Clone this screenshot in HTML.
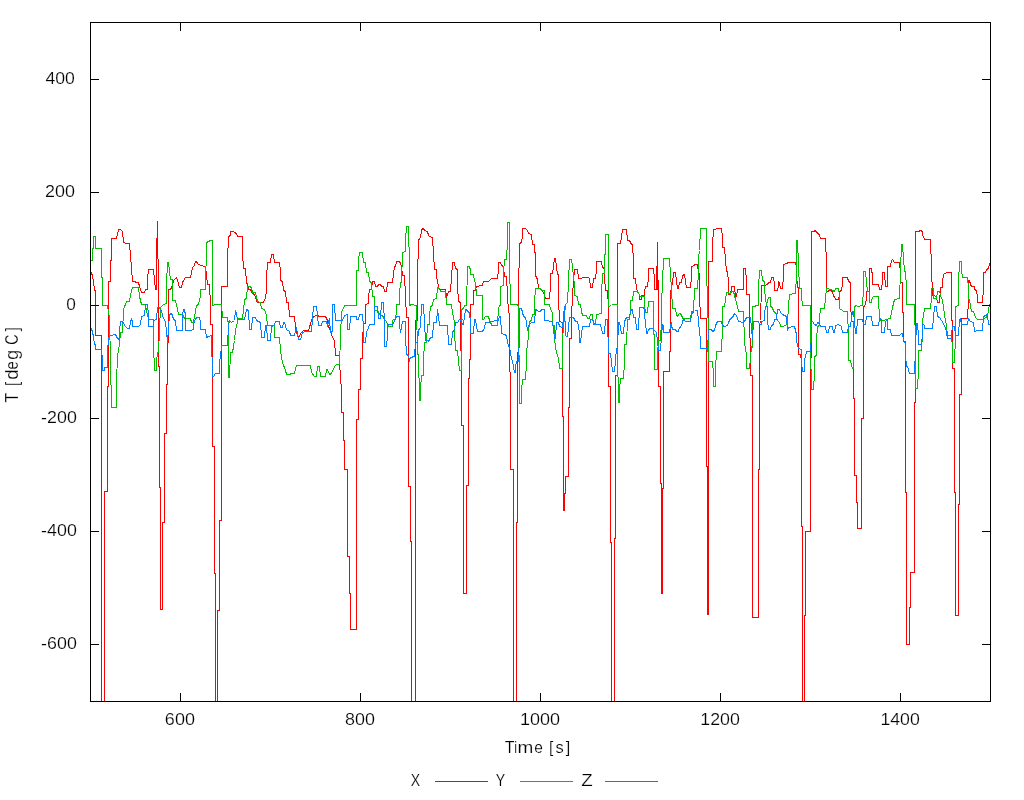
<!DOCTYPE html>
<html><head><meta charset="utf-8"><style>
html,body{margin:0;padding:0;background:#fff;width:1024px;height:800px;overflow:hidden}
svg{display:block;will-change:transform}
text{font-family:"Liberation Sans",sans-serif;font-size:17.0px;fill:#000;font-kerning:none;stroke:#fff;stroke-width:0.2px}
</style></head><body>
<svg width="1024" height="800" viewBox="0 0 1024 800">
<rect width="1024" height="800" fill="#fff"/>
<g fill="none" stroke-width="1" shape-rendering="crispEdges">
<polyline stroke="#ff0000" points="90.5,271.5 91.5,272.5 92.5,276.5 93.5,281.5 94.5,290.5 95.5,290.5 95.5,335.5 101.5,335.5 101.5,701.5 104.5,701.5 104.5,491.5 107.5,491.5 107.5,386.5 108.5,386.5 108.5,281.5 110.5,281.5 110.5,260.5 111.5,260.5 111.5,238.5 116.5,238.5 117.5,234.5 118.5,229.5 120.5,229.5 122.5,231.5 123.5,242.5 126.5,243.5 129.5,243.5 130.5,255.5 131.5,267.5 132.5,281.5 138.5,282.5 139.5,286.5 141.5,292.5 144.5,292.5 145.5,289.5 147.5,289.5 147.5,279.5 148.5,269.5 153.5,269.5 154.5,280.5 155.5,289.5 156.5,289.5 156.5,255.5 157.5,221.5 158.5,294.5 158.5,366.5 159.5,366.5 159.5,487.5 160.5,487.5 160.5,609.5 162.5,609.5 162.5,522.5 164.5,522.5 164.5,433.5 166.5,433.5 166.5,384.5 167.5,384.5 167.5,342.5 168.5,342.5 168.5,289.5 170.5,289.5 172.5,285.5 173.5,280.5 176.5,277.5 177.5,280.5 179.5,287.5 181.5,287.5 182.5,282.5 185.5,277.5 190.5,277.5 191.5,272.5 192.5,267.5 194.5,265.5 195.5,261.5 196.5,261.5 197.5,263.5 200.5,265.5 205.5,266.5 206.5,275.5 207.5,284.5 209.5,284.5 210.5,304.5 210.5,324.5 212.5,324.5 212.5,446.5 214.5,446.5 214.5,573.5 215.5,573.5 215.5,701.5 217.5,701.5 217.5,610.5 219.5,610.5 219.5,520.5 221.5,520.5 221.5,286.5 227.5,286.5 227.5,260.5 228.5,236.5 230.5,235.5 230.5,231.5 233.5,231.5 234.5,232.5 236.5,233.5 237.5,236.5 242.5,236.5 242.5,252.5 243.5,268.5 245.5,268.5 246.5,282.5 247.5,284.5 248.5,289.5 250.5,289.5 252.5,293.5 254.5,294.5 256.5,300.5 257.5,302.5 263.5,302.5 265.5,297.5 266.5,291.5 266.5,277.5 267.5,262.5 270.5,262.5 271.5,254.5 273.5,254.5 274.5,262.5 279.5,262.5 280.5,271.5 280.5,280.5 282.5,281.5 283.5,290.5 285.5,291.5 286.5,302.5 288.5,302.5 289.5,316.5 294.5,316.5 295.5,327.5 296.5,332.5 298.5,337.5 301.5,332.5 303.5,330.5 308.5,330.5 311.5,320.5 313.5,316.5 316.5,315.5 320.5,316.5 325.5,316.5 327.5,320.5 327.5,323.5 330.5,331.5 332.5,337.5 334.5,340.5 335.5,355.5 338.5,355.5 339.5,355.5 340.5,383.5 341.5,384.5 341.5,412.5 343.5,412.5 343.5,440.5 344.5,440.5 344.5,469.5 347.5,469.5 347.5,556.5 349.5,556.5 349.5,593.5 350.5,593.5 350.5,629.5 356.5,629.5 356.5,419.5 358.5,419.5 358.5,389.5 360.5,389.5 360.5,358.5 362.5,358.5 362.5,341.5 363.5,323.5 365.5,323.5 365.5,304.5 368.5,303.5 368.5,296.5 369.5,289.5 371.5,289.5 372.5,281.5 374.5,281.5 375.5,286.5 377.5,286.5 378.5,284.5 380.5,284.5 381.5,286.5 383.5,286.5 384.5,291.5 386.5,291.5 387.5,282.5 392.5,282.5 393.5,274.5 394.5,266.5 395.5,266.5 396.5,261.5 399.5,261.5 400.5,263.5 401.5,266.5 402.5,275.5 404.5,275.5 405.5,295.5 406.5,317.5 408.5,317.5 408.5,486.5 410.5,486.5 410.5,541.5 411.5,541.5 411.5,701.5 415.5,701.5 415.5,320.5 417.5,320.5 417.5,279.5 418.5,239.5 420.5,238.5 421.5,229.5 423.5,228.5 424.5,230.5 427.5,231.5 428.5,235.5 429.5,236.5 432.5,237.5 433.5,253.5 434.5,269.5 436.5,269.5 436.5,275.5 437.5,282.5 439.5,289.5 445.5,289.5 446.5,296.5 447.5,294.5 448.5,291.5 450.5,291.5 451.5,277.5 452.5,262.5 454.5,262.5 455.5,268.5 457.5,269.5 457.5,285.5 458.5,301.5 460.5,302.5 460.5,337.5 461.5,363.5 461.5,425.5 463.5,425.5 463.5,593.5 466.5,593.5 466.5,485.5 468.5,485.5 468.5,378.5 469.5,378.5 470.5,341.5 470.5,304.5 473.5,304.5 473.5,290.5 475.5,290.5 476.5,286.5 482.5,285.5 483.5,281.5 488.5,281.5 491.5,278.5 497.5,278.5 498.5,270.5 498.5,262.5 500.5,262.5 501.5,265.5 503.5,266.5 504.5,276.5 506.5,276.5 507.5,294.5 508.5,312.5 509.5,313.5 509.5,352.5 510.5,391.5 510.5,469.5 513.5,469.5 513.5,701.5 516.5,701.5 516.5,522.5 517.5,522.5 517.5,362.5 518.5,342.5 518.5,292.5 519.5,243.5 521.5,242.5 522.5,235.5 522.5,228.5 525.5,228.5 527.5,230.5 528.5,233.5 531.5,234.5 532.5,244.5 534.5,244.5 535.5,260.5 535.5,275.5 537.5,279.5 538.5,288.5 540.5,288.5 541.5,290.5 543.5,292.5 545.5,298.5 549.5,298.5 550.5,286.5 550.5,273.5 552.5,273.5 553.5,266.5 554.5,258.5 555.5,258.5 556.5,266.5 557.5,274.5 558.5,274.5 558.5,297.5 559.5,321.5 562.5,322.5 562.5,416.5 563.5,416.5 563.5,510.5 564.5,510.5 564.5,493.5 565.5,493.5 565.5,476.5 568.5,476.5 568.5,407.5 569.5,407.5 569.5,338.5 571.5,338.5 571.5,316.5 572.5,295.5 573.5,281.5 574.5,269.5 577.5,269.5 578.5,278.5 581.5,278.5 582.5,277.5 586.5,277.5 588.5,277.5 589.5,278.5 590.5,287.5 592.5,287.5 593.5,278.5 595.5,278.5 596.5,269.5 596.5,261.5 601.5,261.5 602.5,267.5 604.5,268.5 604.5,276.5 605.5,290.5 607.5,290.5 608.5,307.5 608.5,386.5 610.5,386.5 610.5,542.5 611.5,542.5 611.5,701.5 614.5,701.5 614.5,538.5 615.5,538.5 615.5,375.5 617.5,375.5 617.5,303.5 617.5,243.5 620.5,243.5 621.5,236.5 622.5,229.5 626.5,229.5 627.5,240.5 629.5,240.5 631.5,244.5 632.5,244.5 633.5,261.5 633.5,278.5 635.5,278.5 636.5,289.5 638.5,292.5 639.5,295.5 639.5,299.5 641.5,299.5 641.5,295.5 644.5,295.5 644.5,291.5 645.5,286.5 647.5,286.5 648.5,277.5 648.5,268.5 653.5,268.5 654.5,279.5 654.5,289.5 656.5,289.5 656.5,266.5 657.5,266.5 657.5,289.5 657.5,242.5 658.5,314.5 658.5,386.5 660.5,386.5 660.5,483.5 661.5,483.5 661.5,593.5 662.5,593.5 662.5,488.5 663.5,488.5 663.5,371.5 669.5,371.5 670.5,332.5 670.5,290.5 671.5,289.5 671.5,284.5 672.5,284.5 673.5,272.5 675.5,272.5 676.5,280.5 677.5,288.5 678.5,288.5 679.5,282.5 681.5,282.5 682.5,275.5 684.5,274.5 685.5,281.5 686.5,287.5 690.5,287.5 691.5,276.5 691.5,266.5 694.5,265.5 694.5,264.5 697.5,264.5 698.5,272.5 699.5,274.5 699.5,295.5 700.5,318.5 706.5,318.5 706.5,466.5 707.5,466.5 707.5,614.5 708.5,614.5 708.5,261.5 712.5,261.5 712.5,245.5 713.5,229.5 715.5,229.5 716.5,228.5 721.5,228.5 722.5,237.5 722.5,247.5 724.5,247.5 725.5,259.5 726.5,271.5 727.5,271.5 728.5,282.5 728.5,294.5 730.5,294.5 731.5,288.5 731.5,286.5 734.5,286.5 735.5,296.5 736.5,296.5 737.5,289.5 743.5,289.5 743.5,268.5 745.5,268.5 746.5,281.5 746.5,294.5 749.5,294.5 749.5,328.5 750.5,347.5 750.5,375.5 752.5,375.5 752.5,617.5 758.5,617.5 758.5,469.5 759.5,469.5 759.5,325.5 760.5,320.5 761.5,285.5 764.5,285.5 767.5,284.5 768.5,282.5 770.5,282.5 771.5,277.5 773.5,277.5 774.5,284.5 774.5,290.5 777.5,290.5 778.5,285.5 778.5,281.5 779.5,282.5 780.5,288.5 782.5,288.5 783.5,275.5 783.5,264.5 786.5,263.5 788.5,262.5 795.5,262.5 796.5,266.5 796.5,274.5 797.5,286.5 798.5,288.5 798.5,354.5 800.5,354.5 801.5,360.5 801.5,526.5 802.5,526.5 802.5,701.5 804.5,701.5 804.5,615.5 805.5,615.5 805.5,531.5 810.5,531.5 810.5,381.5 811.5,336.5 811.5,231.5 813.5,231.5 815.5,230.5 816.5,232.5 818.5,233.5 819.5,235.5 820.5,238.5 825.5,238.5 826.5,264.5 826.5,291.5 830.5,290.5 832.5,291.5 833.5,296.5 834.5,296.5 835.5,299.5 838.5,299.5 839.5,294.5 839.5,291.5 841.5,290.5 842.5,284.5 842.5,277.5 847.5,277.5 848.5,281.5 850.5,282.5 850.5,302.5 851.5,321.5 853.5,321.5 853.5,398.5 854.5,398.5 854.5,475.5 856.5,475.5 856.5,502.5 857.5,502.5 857.5,528.5 861.5,528.5 861.5,418.5 863.5,418.5 863.5,306.5 865.5,305.5 866.5,297.5 866.5,291.5 869.5,291.5 869.5,268.5 871.5,268.5 872.5,276.5 872.5,284.5 878.5,284.5 879.5,289.5 881.5,289.5 882.5,281.5 882.5,272.5 884.5,272.5 885.5,286.5 887.5,286.5 887.5,266.5 890.5,266.5 891.5,260.5 892.5,259.5 894.5,262.5 899.5,262.5 900.5,272.5 900.5,282.5 902.5,282.5 902.5,312.5 903.5,312.5 903.5,341.5 905.5,341.5 905.5,492.5 906.5,492.5 906.5,644.5 909.5,644.5 909.5,607.5 910.5,607.5 910.5,572.5 914.5,572.5 914.5,402.5 915.5,402.5 915.5,231.5 918.5,231.5 920.5,230.5 922.5,231.5 922.5,234.5 924.5,239.5 930.5,239.5 931.5,267.5 932.5,295.5 934.5,295.5 935.5,296.5 936.5,296.5 937.5,302.5 939.5,302.5 940.5,287.5 942.5,287.5 942.5,281.5 943.5,274.5 946.5,272.5 951.5,272.5 951.5,320.5 952.5,320.5 952.5,368.5 954.5,368.5 954.5,492.5 955.5,492.5 955.5,615.5 958.5,615.5 958.5,504.5 959.5,504.5 959.5,394.5 961.5,394.5 961.5,318.5 967.5,318.5 968.5,299.5 968.5,280.5 969.5,280.5 970.5,284.5 971.5,286.5 974.5,286.5 974.5,289.5 976.5,290.5 977.5,296.5 977.5,302.5 982.5,302.5 983.5,287.5 983.5,272.5 985.5,272.5 986.5,269.5 988.5,268.5 989.5,263.5 990.5,262.5"/>
<polyline stroke="#00c000" points="90.5,260.5 92.5,260.5 92.5,248.5 93.5,248.5 93.5,236.5 95.5,236.5 95.5,248.5 101.5,248.5 101.5,277.5 102.5,277.5 102.5,305.5 107.5,305.5 108.5,311.5 109.5,318.5 110.5,361.5 111.5,407.5 116.5,407.5 116.5,381.5 117.5,356.5 119.5,344.5 120.5,332.5 122.5,332.5 123.5,309.5 126.5,301.5 129.5,301.5 130.5,294.5 132.5,287.5 138.5,287.5 139.5,296.5 141.5,304.5 145.5,304.5 146.5,310.5 148.5,319.5 153.5,319.5 153.5,345.5 154.5,370.5 156.5,370.5 156.5,361.5 157.5,352.5 158.5,352.5 159.5,329.5 160.5,307.5 163.5,304.5 166.5,303.5 166.5,283.5 167.5,262.5 168.5,262.5 169.5,271.5 170.5,279.5 172.5,279.5 172.5,300.5 175.5,300.5 177.5,309.5 178.5,314.5 182.5,314.5 184.5,318.5 190.5,318.5 191.5,322.5 193.5,322.5 194.5,316.5 196.5,305.5 198.5,304.5 200.5,295.5 200.5,289.5 205.5,289.5 206.5,242.5 208.5,241.5 210.5,240.5 212.5,240.5 212.5,305.5 215.5,304.5 218.5,304.5 218.5,304.5 221.5,304.5 222.5,317.5 227.5,317.5 228.5,325.5 228.5,377.5 229.5,377.5 230.5,352.5 232.5,352.5 234.5,340.5 235.5,330.5 236.5,325.5 238.5,318.5 242.5,318.5 243.5,310.5 244.5,299.5 246.5,298.5 247.5,286.5 249.5,286.5 251.5,287.5 252.5,292.5 255.5,292.5 257.5,301.5 260.5,302.5 261.5,308.5 264.5,309.5 266.5,315.5 267.5,325.5 274.5,325.5 274.5,337.5 279.5,337.5 280.5,350.5 282.5,362.5 285.5,370.5 286.5,374.5 294.5,373.5 296.5,365.5 310.5,365.5 311.5,372.5 314.5,376.5 316.5,376.5 317.5,366.5 319.5,366.5 320.5,376.5 325.5,376.5 326.5,369.5 327.5,369.5 329.5,374.5 331.5,373.5 334.5,366.5 336.5,364.5 338.5,364.5 339.5,364.5 340.5,337.5 341.5,311.5 343.5,308.5 344.5,305.5 356.5,305.5 356.5,270.5 358.5,270.5 358.5,260.5 359.5,252.5 362.5,252.5 363.5,262.5 365.5,262.5 366.5,272.5 368.5,272.5 369.5,281.5 371.5,282.5 372.5,296.5 374.5,296.5 374.5,310.5 377.5,310.5 379.5,314.5 382.5,315.5 384.5,319.5 385.5,320.5 387.5,323.5 388.5,326.5 392.5,326.5 392.5,320.5 395.5,318.5 396.5,311.5 396.5,304.5 399.5,304.5 399.5,294.5 400.5,282.5 401.5,282.5 402.5,252.5 405.5,251.5 405.5,239.5 406.5,226.5 408.5,226.5 409.5,266.5 409.5,305.5 411.5,304.5 416.5,305.5 417.5,354.5 418.5,354.5 419.5,400.5 420.5,400.5 420.5,389.5 421.5,375.5 423.5,375.5 423.5,359.5 424.5,342.5 426.5,342.5 427.5,324.5 429.5,324.5 429.5,315.5 430.5,306.5 432.5,305.5 433.5,299.5 436.5,298.5 437.5,287.5 439.5,288.5 440.5,291.5 445.5,291.5 446.5,304.5 451.5,304.5 452.5,312.5 454.5,322.5 454.5,331.5 455.5,350.5 457.5,350.5 458.5,361.5 459.5,370.5 461.5,370.5 461.5,308.5 461.5,309.5 463.5,308.5 464.5,305.5 466.5,305.5 467.5,266.5 469.5,266.5 470.5,270.5 470.5,274.5 473.5,274.5 474.5,281.5 475.5,282.5 476.5,295.5 482.5,295.5 482.5,319.5 483.5,319.5 485.5,316.5 488.5,316.5 489.5,320.5 490.5,321.5 491.5,325.5 497.5,325.5 498.5,307.5 499.5,306.5 500.5,304.5 500.5,286.5 503.5,285.5 503.5,272.5 504.5,259.5 506.5,259.5 507.5,241.5 507.5,222.5 509.5,222.5 509.5,262.5 510.5,304.5 516.5,304.5 518.5,305.5 519.5,403.5 521.5,403.5 521.5,391.5 522.5,379.5 525.5,379.5 526.5,362.5 526.5,348.5 527.5,347.5 528.5,333.5 529.5,321.5 531.5,320.5 532.5,314.5 534.5,314.5 534.5,301.5 535.5,288.5 540.5,288.5 541.5,290.5 544.5,290.5 544.5,304.5 549.5,304.5 550.5,309.5 552.5,312.5 552.5,325.5 554.5,325.5 554.5,337.5 555.5,347.5 557.5,356.5 558.5,357.5 559.5,368.5 562.5,368.5 562.5,338.5 564.5,316.5 565.5,304.5 567.5,302.5 568.5,281.5 569.5,259.5 571.5,259.5 572.5,266.5 573.5,276.5 574.5,285.5 574.5,295.5 577.5,296.5 578.5,304.5 580.5,304.5 581.5,311.5 582.5,315.5 586.5,315.5 587.5,318.5 589.5,318.5 590.5,314.5 592.5,314.5 593.5,324.5 595.5,324.5 596.5,314.5 601.5,313.5 601.5,294.5 602.5,273.5 604.5,273.5 604.5,254.5 605.5,254.5 605.5,234.5 608.5,234.5 608.5,306.5 611.5,305.5 612.5,304.5 617.5,304.5 617.5,350.5 618.5,402.5 619.5,402.5 619.5,390.5 620.5,378.5 623.5,378.5 624.5,361.5 624.5,344.5 626.5,344.5 627.5,319.5 629.5,319.5 630.5,310.5 630.5,300.5 632.5,300.5 633.5,291.5 636.5,291.5 638.5,292.5 639.5,295.5 640.5,296.5 644.5,296.5 644.5,305.5 645.5,312.5 647.5,312.5 648.5,301.5 653.5,301.5 653.5,334.5 654.5,334.5 654.5,369.5 657.5,369.5 657.5,354.5 658.5,340.5 660.5,340.5 660.5,337.5 661.5,322.5 661.5,305.5 662.5,281.5 663.5,258.5 669.5,258.5 670.5,274.5 671.5,289.5 672.5,308.5 675.5,308.5 676.5,314.5 677.5,316.5 679.5,313.5 681.5,314.5 682.5,318.5 690.5,318.5 691.5,311.5 693.5,311.5 694.5,288.5 697.5,288.5 698.5,272.5 698.5,257.5 699.5,250.5 700.5,228.5 706.5,228.5 706.5,266.5 707.5,304.5 708.5,331.5 708.5,361.5 712.5,361.5 713.5,374.5 713.5,386.5 715.5,386.5 715.5,368.5 716.5,351.5 721.5,351.5 722.5,327.5 722.5,306.5 724.5,306.5 726.5,292.5 730.5,293.5 731.5,291.5 733.5,291.5 735.5,299.5 737.5,306.5 738.5,311.5 743.5,311.5 744.5,342.5 746.5,355.5 746.5,368.5 749.5,368.5 750.5,358.5 751.5,346.5 752.5,347.5 752.5,306.5 758.5,305.5 758.5,288.5 759.5,270.5 761.5,270.5 762.5,280.5 764.5,281.5 764.5,290.5 765.5,297.5 766.5,305.5 767.5,300.5 767.5,300.5 768.5,297.5 770.5,297.5 770.5,306.5 771.5,306.5 772.5,308.5 774.5,312.5 776.5,313.5 776.5,318.5 778.5,321.5 780.5,324.5 780.5,326.5 783.5,326.5 784.5,325.5 787.5,324.5 787.5,318.5 788.5,309.5 788.5,306.5 789.5,294.5 795.5,293.5 796.5,275.5 796.5,240.5 797.5,240.5 798.5,264.5 798.5,264.5 799.5,288.5 801.5,288.5 801.5,296.5 802.5,305.5 810.5,305.5 810.5,347.5 811.5,389.5 813.5,389.5 814.5,372.5 814.5,356.5 816.5,355.5 816.5,340.5 817.5,326.5 819.5,325.5 819.5,318.5 820.5,308.5 824.5,308.5 825.5,298.5 826.5,288.5 828.5,288.5 829.5,289.5 831.5,289.5 832.5,290.5 834.5,291.5 835.5,288.5 838.5,288.5 839.5,295.5 839.5,308.5 842.5,310.5 843.5,311.5 847.5,311.5 848.5,336.5 848.5,360.5 850.5,360.5 851.5,365.5 852.5,368.5 853.5,368.5 853.5,336.5 854.5,306.5 856.5,305.5 857.5,306.5 862.5,305.5 863.5,288.5 863.5,271.5 865.5,271.5 866.5,281.5 867.5,291.5 869.5,291.5 869.5,302.5 871.5,302.5 871.5,299.5 873.5,296.5 878.5,296.5 879.5,320.5 881.5,320.5 884.5,320.5 885.5,319.5 890.5,318.5 891.5,312.5 892.5,307.5 893.5,303.5 894.5,299.5 899.5,298.5 900.5,271.5 901.5,244.5 902.5,244.5 903.5,258.5 904.5,271.5 905.5,271.5 906.5,288.5 906.5,304.5 914.5,304.5 915.5,345.5 915.5,388.5 917.5,388.5 918.5,369.5 918.5,350.5 921.5,350.5 922.5,334.5 922.5,321.5 923.5,315.5 924.5,308.5 930.5,308.5 931.5,298.5 931.5,288.5 933.5,288.5 933.5,298.5 936.5,298.5 937.5,291.5 939.5,291.5 941.5,298.5 942.5,299.5 943.5,307.5 944.5,314.5 945.5,320.5 946.5,325.5 947.5,335.5 951.5,335.5 952.5,348.5 952.5,362.5 954.5,362.5 955.5,335.5 955.5,306.5 958.5,305.5 958.5,283.5 959.5,261.5 961.5,261.5 961.5,269.5 962.5,277.5 967.5,277.5 968.5,288.5 968.5,299.5 969.5,299.5 971.5,311.5 973.5,311.5 975.5,317.5 977.5,319.5 982.5,319.5 983.5,318.5 986.5,317.5 987.5,315.5 988.5,310.5 989.5,304.5 990.5,303.5"/>
<polyline stroke="#0080ff" points="90.5,328.5 91.5,328.5 93.5,336.5 94.5,344.5 95.5,344.5 95.5,349.5 101.5,349.5 102.5,360.5 102.5,370.5 104.5,370.5 104.5,367.5 107.5,367.5 107.5,352.5 108.5,337.5 110.5,335.5 115.5,334.5 117.5,338.5 119.5,339.5 119.5,331.5 120.5,321.5 122.5,321.5 123.5,323.5 125.5,326.5 127.5,328.5 129.5,328.5 130.5,322.5 131.5,318.5 132.5,322.5 132.5,326.5 138.5,326.5 140.5,324.5 141.5,316.5 144.5,315.5 145.5,304.5 147.5,304.5 148.5,315.5 148.5,326.5 153.5,326.5 153.5,320.5 156.5,319.5 157.5,307.5 159.5,307.5 160.5,310.5 161.5,310.5 162.5,315.5 163.5,318.5 165.5,321.5 166.5,331.5 167.5,342.5 168.5,327.5 169.5,315.5 170.5,313.5 171.5,313.5 172.5,315.5 173.5,319.5 175.5,320.5 176.5,330.5 182.5,330.5 182.5,315.5 183.5,309.5 184.5,309.5 185.5,315.5 185.5,330.5 190.5,330.5 193.5,329.5 193.5,324.5 195.5,318.5 197.5,317.5 199.5,317.5 200.5,322.5 200.5,329.5 205.5,329.5 206.5,337.5 208.5,336.5 211.5,335.5 212.5,376.5 213.5,376.5 215.5,373.5 218.5,373.5 219.5,373.5 219.5,362.5 220.5,356.5 221.5,345.5 227.5,345.5 228.5,325.5 229.5,320.5 231.5,322.5 234.5,320.5 235.5,310.5 236.5,314.5 237.5,319.5 244.5,319.5 246.5,309.5 248.5,310.5 249.5,329.5 251.5,329.5 252.5,317.5 255.5,317.5 256.5,320.5 260.5,322.5 261.5,337.5 264.5,337.5 265.5,325.5 266.5,325.5 267.5,340.5 270.5,340.5 271.5,326.5 274.5,325.5 275.5,321.5 279.5,321.5 280.5,327.5 282.5,327.5 283.5,322.5 284.5,322.5 286.5,329.5 289.5,331.5 290.5,335.5 294.5,335.5 296.5,327.5 298.5,339.5 300.5,339.5 302.5,332.5 305.5,331.5 311.5,331.5 312.5,318.5 313.5,306.5 316.5,306.5 317.5,315.5 318.5,325.5 321.5,325.5 322.5,321.5 326.5,321.5 327.5,325.5 329.5,318.5 330.5,332.5 332.5,331.5 332.5,304.5 334.5,304.5 335.5,320.5 338.5,320.5 342.5,320.5 344.5,315.5 347.5,314.5 347.5,329.5 349.5,329.5 350.5,316.5 356.5,316.5 356.5,319.5 358.5,319.5 359.5,314.5 362.5,314.5 363.5,327.5 363.5,342.5 365.5,342.5 366.5,331.5 367.5,330.5 369.5,324.5 374.5,324.5 374.5,306.5 377.5,306.5 378.5,318.5 380.5,318.5 381.5,302.5 383.5,302.5 384.5,323.5 384.5,346.5 386.5,346.5 387.5,335.5 387.5,324.5 392.5,324.5 394.5,321.5 396.5,316.5 399.5,316.5 399.5,325.5 400.5,332.5 402.5,321.5 405.5,321.5 405.5,337.5 406.5,354.5 408.5,355.5 409.5,360.5 410.5,357.5 414.5,356.5 415.5,342.5 417.5,342.5 418.5,329.5 420.5,328.5 421.5,304.5 423.5,304.5 424.5,322.5 425.5,340.5 427.5,340.5 428.5,341.5 430.5,337.5 432.5,337.5 433.5,322.5 436.5,322.5 437.5,309.5 438.5,316.5 439.5,325.5 447.5,325.5 448.5,344.5 451.5,344.5 452.5,331.5 454.5,330.5 455.5,322.5 457.5,322.5 459.5,319.5 462.5,319.5 458.5,319.5 460.5,319.5 461.5,322.5 462.5,324.5 463.5,324.5 464.5,316.5 465.5,309.5 466.5,309.5 467.5,311.5 469.5,312.5 470.5,322.5 470.5,333.5 473.5,333.5 474.5,319.5 475.5,319.5 476.5,325.5 477.5,331.5 482.5,331.5 483.5,329.5 484.5,328.5 485.5,322.5 488.5,322.5 490.5,321.5 498.5,320.5 499.5,316.5 500.5,316.5 501.5,333.5 504.5,334.5 506.5,335.5 507.5,341.5 508.5,346.5 509.5,346.5 510.5,352.5 511.5,359.5 512.5,360.5 514.5,372.5 515.5,372.5 515.5,367.5 516.5,361.5 518.5,361.5 519.5,335.5 519.5,308.5 521.5,308.5 522.5,312.5 523.5,316.5 525.5,317.5 526.5,322.5 527.5,330.5 527.5,330.5 528.5,325.5 529.5,324.5 531.5,322.5 534.5,322.5 535.5,309.5 537.5,310.5 538.5,311.5 540.5,311.5 541.5,309.5 544.5,309.5 544.5,320.5 552.5,321.5 553.5,329.5 554.5,338.5 555.5,338.5 556.5,322.5 558.5,322.5 559.5,326.5 562.5,327.5 563.5,316.5 564.5,306.5 564.5,306.5 565.5,335.5 566.5,336.5 567.5,336.5 568.5,327.5 569.5,317.5 573.5,317.5 575.5,321.5 577.5,321.5 579.5,332.5 579.5,342.5 580.5,342.5 581.5,334.5 582.5,326.5 586.5,326.5 589.5,326.5 590.5,319.5 592.5,319.5 594.5,324.5 600.5,324.5 602.5,333.5 604.5,333.5 605.5,319.5 607.5,319.5 608.5,353.5 610.5,353.5 612.5,371.5 614.5,371.5 615.5,360.5 616.5,348.5 617.5,348.5 618.5,322.5 619.5,322.5 621.5,333.5 623.5,333.5 624.5,321.5 626.5,317.5 629.5,317.5 630.5,310.5 632.5,309.5 633.5,317.5 635.5,317.5 636.5,329.5 638.5,329.5 639.5,307.5 642.5,307.5 644.5,308.5 644.5,315.5 645.5,321.5 646.5,333.5 647.5,333.5 648.5,329.5 650.5,328.5 652.5,328.5 654.5,330.5 656.5,332.5 657.5,340.5 658.5,350.5 660.5,350.5 661.5,336.5 662.5,324.5 663.5,325.5 663.5,332.5 669.5,332.5 670.5,325.5 671.5,322.5 671.5,325.5 672.5,329.5 675.5,329.5 676.5,331.5 678.5,331.5 679.5,327.5 681.5,326.5 682.5,322.5 683.5,318.5 685.5,321.5 690.5,321.5 691.5,314.5 692.5,312.5 694.5,311.5 695.5,310.5 697.5,310.5 698.5,321.5 699.5,331.5 700.5,340.5 700.5,348.5 706.5,348.5 707.5,350.5 708.5,329.5 711.5,329.5 712.5,331.5 714.5,330.5 715.5,325.5 717.5,321.5 721.5,321.5 722.5,325.5 724.5,326.5 727.5,325.5 728.5,322.5 730.5,318.5 732.5,317.5 734.5,313.5 736.5,315.5 738.5,321.5 743.5,322.5 744.5,321.5 746.5,317.5 750.5,317.5 751.5,327.5 752.5,339.5 752.5,339.5 753.5,321.5 758.5,321.5 759.5,324.5 761.5,324.5 761.5,321.5 764.5,320.5 764.5,314.5 765.5,306.5 767.5,306.5 767.5,319.5 768.5,329.5 770.5,329.5 771.5,325.5 773.5,324.5 774.5,319.5 776.5,319.5 777.5,309.5 779.5,309.5 780.5,312.5 782.5,314.5 784.5,315.5 786.5,316.5 787.5,330.5 788.5,327.5 794.5,326.5 796.5,334.5 796.5,341.5 798.5,348.5 801.5,349.5 801.5,361.5 802.5,371.5 804.5,371.5 804.5,360.5 806.5,351.5 810.5,351.5 811.5,335.5 811.5,321.5 812.5,321.5 814.5,324.5 816.5,325.5 817.5,322.5 819.5,323.5 820.5,326.5 825.5,326.5 826.5,332.5 828.5,332.5 829.5,326.5 832.5,326.5 833.5,332.5 834.5,332.5 835.5,325.5 838.5,324.5 841.5,326.5 842.5,332.5 847.5,332.5 848.5,326.5 850.5,326.5 851.5,318.5 852.5,311.5 853.5,311.5 854.5,322.5 855.5,333.5 856.5,333.5 857.5,319.5 862.5,319.5 863.5,324.5 865.5,324.5 866.5,316.5 871.5,316.5 872.5,325.5 878.5,325.5 879.5,318.5 881.5,319.5 881.5,332.5 884.5,332.5 885.5,321.5 887.5,319.5 887.5,329.5 890.5,329.5 891.5,335.5 899.5,335.5 901.5,333.5 902.5,333.5 903.5,339.5 904.5,342.5 905.5,342.5 905.5,354.5 906.5,366.5 907.5,366.5 909.5,373.5 914.5,373.5 915.5,348.5 916.5,323.5 917.5,323.5 918.5,335.5 918.5,344.5 921.5,344.5 922.5,334.5 922.5,323.5 924.5,325.5 924.5,328.5 932.5,328.5 933.5,317.5 934.5,306.5 936.5,306.5 937.5,316.5 939.5,317.5 941.5,320.5 943.5,323.5 944.5,326.5 945.5,327.5 947.5,338.5 951.5,338.5 951.5,333.5 952.5,326.5 954.5,326.5 955.5,335.5 958.5,335.5 959.5,319.5 960.5,318.5 961.5,324.5 967.5,324.5 968.5,318.5 970.5,321.5 973.5,322.5 974.5,331.5 977.5,330.5 982.5,330.5 983.5,316.5 985.5,315.5 987.5,314.5 988.5,324.5 990.5,324.5"/>
</g>
<g fill="none" stroke="#000" stroke-width="1" shape-rendering="crispEdges">
<rect x="90.5" y="22.5" width="900" height="679"/>
<path d="M90,79.5h9M991,79.5h-9M90,192.5h9M991,192.5h-9M90,305.5h9M991,305.5h-9M90,418.5h9M991,418.5h-9M90,531.5h9M991,531.5h-9M90,644.5h9M991,644.5h-9M180.5,702v-9M180.5,22v9M360.5,702v-9M360.5,22v9M540.5,702v-9M540.5,22v9M720.5,702v-9M720.5,22v9M900.5,702v-9M900.5,22v9"/>
</g>
<text x="45.50" y="84" textLength="29.39" lengthAdjust="spacingAndGlyphs">400</text>
<text x="45.00" y="197" textLength="29.90" lengthAdjust="spacingAndGlyphs">200</text>
<text x="66.28" y="310" textLength="9.60" lengthAdjust="spacingAndGlyphs">0</text>
<text x="41.11" y="423" textLength="35.69" lengthAdjust="spacingAndGlyphs">-200</text>
<text x="41.11" y="536" textLength="35.69" lengthAdjust="spacingAndGlyphs">-400</text>
<text x="41.11" y="649" textLength="35.69" lengthAdjust="spacingAndGlyphs">-600</text>
<text x="164.89" y="725" textLength="30.02" lengthAdjust="spacingAndGlyphs">600</text>
<text x="345.02" y="725" textLength="29.88" lengthAdjust="spacingAndGlyphs">800</text>
<text x="520.13" y="725" textLength="39.97" lengthAdjust="spacingAndGlyphs">1000</text>
<text x="700.25" y="725" textLength="39.55" lengthAdjust="spacingAndGlyphs">1200</text>
<text x="880.45" y="725" textLength="39.34" lengthAdjust="spacingAndGlyphs">1400</text>
<text x="504.64" y="753" textLength="9.72" lengthAdjust="spacingAndGlyphs">T</text>
<text x="514.16" y="753" textLength="2.78" lengthAdjust="spacingAndGlyphs">i</text>
<text x="517.64" y="753" textLength="15.81" lengthAdjust="spacingAndGlyphs">m</text>
<text x="534.24" y="753" textLength="8.65" lengthAdjust="spacingAndGlyphs">e</text>
<text x="548.89" y="753" textLength="4.33" lengthAdjust="spacingAndGlyphs">[</text>
<text x="555.44" y="753" textLength="8.26" lengthAdjust="spacingAndGlyphs">s</text>
<text x="565.77" y="753" textLength="4.47" lengthAdjust="spacingAndGlyphs">]</text>
<text x="410.73" y="786" textLength="9.36" lengthAdjust="spacingAndGlyphs">X</text>
<text x="495.79" y="786" textLength="9.42" lengthAdjust="spacingAndGlyphs">Y</text>
<text x="581.20" y="786" textLength="11.48" lengthAdjust="spacingAndGlyphs">Z</text>
<g transform="translate(18,402.1) rotate(-90)"><text x="-0.36" y="0" textLength="9.83" lengthAdjust="spacingAndGlyphs" style="font-size:17.5px">T</text><text x="16.02" y="0" textLength="4.19" lengthAdjust="spacingAndGlyphs" style="font-size:17.5px">[</text><text x="22.32" y="0" textLength="10.26" lengthAdjust="spacingAndGlyphs" style="font-size:17.5px">d</text><text x="32.68" y="0" textLength="8.18" lengthAdjust="spacingAndGlyphs" style="font-size:17.5px">e</text><text x="42.35" y="0" textLength="9.89" lengthAdjust="spacingAndGlyphs" style="font-size:17.5px">g</text><text x="57.38" y="0" textLength="10.26" lengthAdjust="spacingAndGlyphs" style="font-size:17.5px">C</text><text x="70.98" y="0" textLength="4.19" lengthAdjust="spacingAndGlyphs" style="font-size:17.5px">]</text></g>
<g stroke-width="1" shape-rendering="crispEdges">
<path d="M435,781.5h53" stroke="#ff0000"/>
<path d="M520,781.5h53" stroke="#00c000"/>
<path d="M605,781.5h53" stroke="#0080ff"/>
</g>
</svg>
</body></html>
